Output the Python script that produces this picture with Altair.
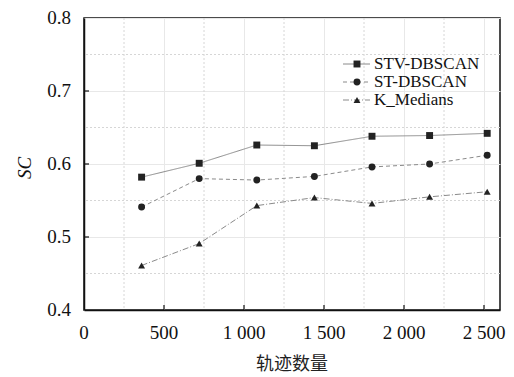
import altair as alt
import pandas as pd

x_vals = [360, 720, 1080, 1440, 1800, 2160, 2520]
stv = [0.582, 0.601, 0.626, 0.625, 0.638, 0.639, 0.642]
st = [0.541, 0.580, 0.578, 0.583, 0.596, 0.600, 0.612]
km = [0.461, 0.491, 0.543, 0.554, 0.546, 0.555, 0.562]
series_names = ["STV-DBSCAN", "ST-DBSCAN", "K_Medians"]

x_ticks = [0, 500, 1000, 1500, 2000, 2500]
y_ticks = [0.4, 0.5, 0.6, 0.7, 0.8]
x_minor = [250, 750, 1250, 1750, 2250]
y_minor = [0.45, 0.55, 0.65, 0.75]
x_title = "轨迹数量"
y_title = "SC"

rows = []
for name, vals in zip(series_names, [stv, st, km]):
    for xv, yv in zip(x_vals, vals):
        rows.append({"n": xv, "sc": yv, "series": name, "series_d": name})
df = pd.DataFrame(rows)

W, H = 416, 292
SERIF = "Liberation Serif, Times New Roman, serif"
CJK = "Noto Sans CJK SC"
INK = "#111"

xs = alt.Scale(domain=[0, 2600], nice=False)
ys = alt.Scale(domain=[0.4, 0.8], nice=False)

x_axis = alt.Axis(values=x_ticks, labels=False, ticks=False, title=None,
                  domainColor=INK, domainWidth=1.5, grid=True, gridColor="#e8e8e8", gridWidth=1)
y_axis = alt.Axis(values=y_ticks, labels=False, ticks=False, title=None,
                  domainColor=INK, domainWidth=1.5, grid=True, gridColor="#e8e8e8", gridWidth=1)


def X(field):
    return alt.X(field, scale=xs, axis=x_axis)


def Y(field):
    return alt.Y(field, scale=ys, axis=y_axis)


dash_map = alt.Scale(domain=series_names, range=[[1, 0], [4, 3], [6, 2, 1, 2]])
shape_map = alt.Scale(domain=series_names, range=["square", "circle", "triangle-up"])
dash_list = [[1, 0], [4, 3], [6, 2, 1, 2]]
shape_list = ["square", "circle", "triangle-up"]

# minor dotted gridlines
minor_x = alt.Chart(pd.DataFrame({"v": x_minor})).mark_rule(
    color="#d6d6d6", strokeDash=[2, 2], strokeWidth=1).encode(x=X("v:Q"))
minor_y = alt.Chart(pd.DataFrame({"v": y_minor})).mark_rule(
    color="#d6d6d6", strokeDash=[2, 2], strokeWidth=1).encode(y=Y("v:Q"))

# inward ticks
xt = alt.Chart(pd.DataFrame({"v": x_ticks[1:]})).mark_rule(color=INK, strokeWidth=1.2).encode(
    x=X("v:Q"), y=alt.value(H), y2=alt.value(H - 5))
yt = alt.Chart(pd.DataFrame({"v": y_ticks[1:-1]})).mark_rule(color=INK, strokeWidth=1.2).encode(
    y=Y("v:Q"), x=alt.value(0), x2=alt.value(5))

# tick labels as text
xl_df = pd.DataFrame({"v": x_ticks, "t": [f"{v:,}".replace(",", " ") for v in x_ticks]})
xl = alt.Chart(xl_df).mark_text(font=SERIF, fontSize=19, color=INK, baseline="middle", align="center").encode(
    x=X("v:Q"), y=alt.value(H + 23), text="t:N")
yl_df = pd.DataFrame({"v": y_ticks, "t": [f"{v:.1f}" for v in y_ticks]})
yl = alt.Chart(yl_df).mark_text(font=SERIF, fontSize=19, color=INK, baseline="middle", align="right").encode(
    y=Y("v:Q"), x=alt.value(-13), text="t:N")

# axis titles
xtitle = alt.Chart(pd.DataFrame({"t": [x_title]})).mark_text(
    font=CJK, fontSize=18, color="#222", baseline="middle", align="center").encode(
    x=alt.value(W / 2), y=alt.value(H + 55), text="t:N")
ytitle = alt.Chart(pd.DataFrame({"t": [y_title]})).mark_text(
    font=SERIF, fontSize=19, fontStyle="italic", color=INK, baseline="middle", align="center", angle=270).encode(
    x=alt.value(-59), y=alt.value(150), text="t:N")

# data
lines = alt.Chart(df).mark_line(color="#8a8a8a", strokeWidth=1).encode(
    x=X("n:Q"), y=Y("sc:Q"),
    strokeDash=alt.StrokeDash("series_d:N", scale=dash_map, legend=None),
    detail="series_d:N",
)
points = alt.Chart(df).mark_point(filled=True, opacity=1, size=48, color="#222").encode(
    x=X("n:Q"), y=Y("sc:Q"),
    shape=alt.Shape("series:N", scale=shape_map, legend=None),
)

# legend (inside, top right)
LX, LY0, ROW = 259, 46, 18
legend_layers = []
for i, name in enumerate(series_names):
    one = pd.DataFrame({"t": [name]})
    yy = LY0 + i * ROW
    legend_layers.append(alt.Chart(one).mark_rule(color="#8a8a8a", strokeWidth=1, strokeDash=dash_list[i]).encode(
        x=alt.value(LX), x2=alt.value(LX + 27), y=alt.value(yy)))
    legend_layers.append(alt.Chart(one).mark_point(filled=True, opacity=1, size=48, color="#222",
                                                   shape=shape_list[i]).encode(
        x=alt.value(LX + 14), y=alt.value(yy)))
    legend_layers.append(alt.Chart(one).mark_text(font=SERIF, fontSize=17, color=INK, align="left",
                                                  baseline="middle").encode(
        x=alt.value(LX + 31), y=alt.value(yy), text="t:N"))

chart = (
    alt.layer(minor_x, minor_y, lines, points, xt, yt, xl, yl, xtitle, ytitle, *legend_layers)
    .properties(
        width=W, height=H,
        autosize=alt.AutoSizeParams(type="none"),
        padding={"left": 76, "top": 10, "right": 6, "bottom": 67},
        background="white",
    )
    .configure_view(stroke=INK, strokeWidth=1.5)
)

chart.save("out.html", embed_options={"renderer": "svg", "actions": False})
